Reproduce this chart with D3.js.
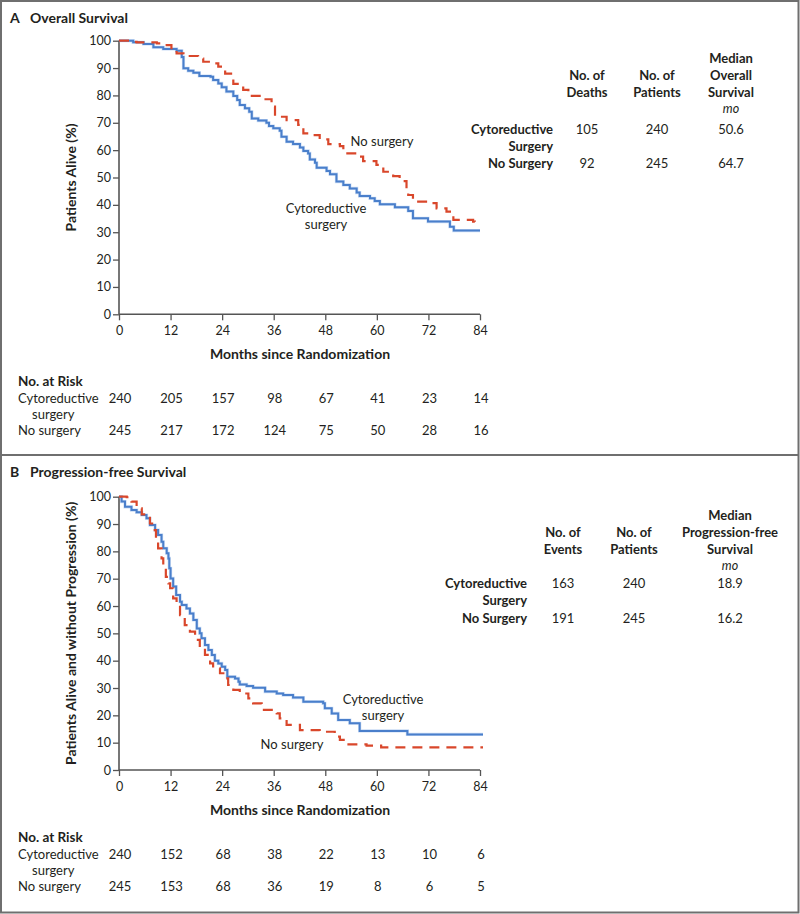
<!DOCTYPE html>
<html><head><meta charset="utf-8">
<script src="https://cdn.jsdelivr.net/npm/d3@7"></script>
<style>body{margin:0;background:#fff;}svg{display:block;font-family:Lato,"Open Sans",sans-serif;}</style>
</head><body>
<script>
// ---------- DATA ----------
const monthTicks = [0, 12, 24, 36, 48, 60, 72, 84];
const pctTicks = [0, 10, 20, 30, 40, 50, 60, 70, 80, 90, 100];
const groups = ["Cytoreductive surgery", "No surgery"];

// Overall survival (months, % alive)
const osSurgeryT = [0,3.3,5.7,8,10.3,13.4,14.6,15,16.1,17.3,18.7,21.3,21.9,23.1,23.9,25,26.6,27.5,28.1,29.3,30.3,30.9,32.4,34.3,34.9,35.9,37.4,37.8,39,40.5,42.1,42.9,44,44.4,45.6,46,48.3,49.1,50.6,52.2,53.7,55.3,56,58.4,59.5,60.7,64.2,67.3,68.4,71.9,77,77.9,84];
const osSurgeryS = [100,99.4,98.8,97.6,97,96.3,94,89.9,89,88.3,87.1,86.8,85.6,84.4,83,81.4,79.8,78.3,76.5,75.3,74,71.6,70.8,70,68.8,68,67.1,64.9,63.1,62.2,61,59.7,58.8,56.6,55.4,53.6,52.4,51.2,48.5,47.3,46,44.5,43.2,42.4,41.4,40.2,39.1,37.8,35.1,33.9,32,30.6,30.6];
const osNoSurgT = [0,2.6,4.1,8.8,11.1,12.2,13.4,15,18.4,19.6,21.9,23.1,24.7,26.6,28.9,30.1,33.6,35.5,36.3,39,41.7,42.9,44.4,46.7,48.7,51.4,52.2,55.3,56.8,59.9,61.5,63.8,65.3,66.9,67.3,68.4,72.3,73.9,76.2,77.8,82.4,82.8,83.2];
const osNoSurgS = [100,99.6,99.4,99,98.4,96.8,95.4,94.4,93.5,92.3,91.7,90.5,88,84.2,82,79.8,78.6,75.9,72.2,71,69.2,66.1,65.5,63.9,62.2,61.5,58.8,57.6,56,54.6,52.1,50.5,48.7,45.4,43.6,41.2,40.6,38.7,37.5,34.5,33.9,32.3,32.3];

// Progression-free survival
const pfsSurgT = [0,0.6,1.4,2.9,4.1,5.3,6.4,7.2,8.4,9.1,9.9,10.3,11.1,11.5,11.7,12,12.6,13.3,14.2,14.6,15.7,16.5,17.3,18.1,18.8,19.2,20,20.8,21.6,22.3,23.1,23.9,24.7,25.2,27,27.8,28.1,29.7,31.2,34,36.7,38.2,40.5,42.9,47.5,47.9,49.5,51,53.7,56,67.1,84.7];
const pfsSurgS = [100,98.2,96.3,95.1,94.3,93.3,92.1,89.6,87.8,86,83.5,81.1,79.3,77.4,73.8,70.1,67.1,64,61.6,60.4,59.1,57.3,54.9,51.8,50,48.2,45.7,43.9,42.1,40,39,37.8,36.6,34.1,33.5,32.3,31.3,30.7,30.1,28.7,28,27.4,26.5,25,24.4,22.6,20.7,18.3,17.1,14.3,13,13];
const pfsNoSurgT = [0,1.8,2.9,4.1,5.3,6.4,7.2,8,8.6,9.1,9.9,10.3,10.9,11.5,11.9,12.6,13.4,14.2,15.3,16.5,17.7,18.8,20,21.2,21.9,23.5,24.7,25.4,26.6,28.1,30.1,31.2,33.2,36.7,37.4,39,42.1,46.7,50.2,51.4,52.6,57.6,61,84.7];
const pfsNoSurgS = [100,99.8,98.2,95.7,93.5,92.7,90.2,87.8,84.8,81.1,77.4,73.8,70.7,68.3,66.5,62.8,60.4,56.7,53,50.6,47.6,44.5,42.1,39,37.2,35.4,33.5,31.1,29.3,28,26.2,24.4,22,20.7,18.9,16.5,14.6,14,12.2,11,9.4,8.9,8.3,8.3];

// Summary tables
const tableRowLabels = [["Cytoreductive", "Surgery"], ["No Surgery"]];
const osHeaders = [["No. of", "Deaths"], ["No. of", "Patients"], ["Median", "Overall", "Survival"]];
const osDeaths = ["105", "92"];
const osPatients = ["240", "245"];
const osMedian = ["50.6", "64.7"];
const pfsHeaders = [["No. of", "Events"], ["No. of", "Patients"], ["Median", "Progression-free", "Survival"]];
const pfsEvents = ["163", "191"];
const pfsPatients = ["240", "245"];
const pfsMedian = ["18.9", "16.2"];

// Numbers at risk
const osRiskSurgery = [240, 205, 157, 98, 67, 41, 23, 14];
const osRiskNoSurg = [245, 217, 172, 124, 75, 50, 28, 16];
const pfsRiskSurgery = [240, 152, 68, 38, 22, 13, 10, 6];
const pfsRiskNoSurg = [245, 153, 68, 36, 19, 8, 6, 5];

// ---------- DRAW ----------
const W = 800, H = 914;
const BLUE = "#4a7fcb", RED = "#d9472b", TXT = "#231f20", AX = "#555";
const svg = d3.select("body").append("svg").attr("width", W).attr("height", H);

svg.append("rect").attr("x", 1).attr("y", 1).attr("width", W - 2.5).attr("height", H - 2.5)
  .attr("fill", "none").attr("stroke", "#6f6f6f").attr("stroke-width", 2);
svg.append("line").attr("x1", 1).attr("x2", W - 1).attr("y1", 455).attr("y2", 455)
  .attr("stroke", "#6f6f6f").attr("stroke-width", 2);

function zip(t, s) { return t.map((v, i) => [v, s[i]]); }

function panel(cfg) {
  const g = svg.append("g");
  const x = d3.scaleLinear().domain([0, 84]).range([119, 480]);
  const y = d3.scaleLinear().domain([0, 100]).range([cfg.y0, cfg.y100]);

  // title
  const t = g.append("text").attr("x", 10).attr("y", cfg.titleY).attr("fill", TXT)
    .attr("font-weight", "bold").attr("font-size", 14);
  t.append("tspan").text(cfg.letter);
  t.append("tspan").attr("x", 30).text(cfg.title);

  // axes
  const ya = g.append("g").attr("transform", `translate(119,0)`)
    .call(d3.axisLeft(y).tickValues(pctTicks).tickSize(6).tickPadding(2));
  const xa = g.append("g").attr("transform", `translate(0,${cfg.y0})`)
    .call(d3.axisBottom(x).tickValues(monthTicks).tickSize(6).tickPadding(6));
  [ya, xa].forEach(a => {
    a.select(".domain").attr("stroke", AX).attr("stroke-width", 1.6);
    a.selectAll(".tick line").attr("stroke", AX).attr("stroke-width", 1.3);
    a.selectAll("text").attr("fill", TXT).attr("font-size", 12.5).attr("font-family", "Lato,sans-serif");
  });
  ya.select(".domain").attr("d", `M0,${cfg.y100}V${cfg.y0}`);
  xa.select(".domain").attr("d", `M119,0H480`);

  g.append("text").attr("transform", `translate(71,${(cfg.y0 + cfg.y100) / 2}) rotate(-90)`)
    .attr("text-anchor", "middle").attr("dy", "0.35em").attr("font-weight", "bold")
    .attr("font-size", 14).attr("fill", TXT).text(cfg.yTitle);
  g.append("text").attr("x", 300).attr("y", cfg.y0 + 40).attr("text-anchor", "middle")
    .attr("dy", "0.35em").attr("font-weight", "bold").attr("font-size", 14).attr("fill", TXT)
    .text("Months since Randomization");

  // curves
  const line = d3.line().x(d => x(d[0])).y(d => y(d[1])).curve(d3.curveStepAfter);
  g.append("path").datum(cfg.surg).attr("d", line).attr("fill", "none")
    .attr("stroke", "#a9c6ee").attr("stroke-width", 3.2).attr("stroke-opacity", 0.6);
  g.append("path").datum(cfg.surg).attr("d", line).attr("fill", "none")
    .attr("stroke", BLUE).attr("stroke-width", 2);
  g.append("path").datum(cfg.nosurg).attr("d", line).attr("fill", "none")
    .attr("stroke", RED).attr("stroke-width", 2.2).attr("stroke-dasharray", "10,7");

  // curve labels
  cfg.labels.forEach(l => {
    const tx = g.append("text").attr("x", l.x).attr("y", l.y).attr("text-anchor", "middle")
      .attr("font-size", 13).attr("fill", TXT);
    l.lines.forEach((s, i) => tx.append("tspan").attr("x", l.x).attr("dy", i === 0 ? "0.35em" : "1.25em").text(s));
  });

  // summary table
  const tb = cfg.table;
  tb.headers.forEach((h, ci) => {
    const n = h.length;
    h.forEach((s, li) => {
      g.append("text").attr("x", tb.cols[ci]).attr("y", tb.headBottom - (n - 1 - li) * 17)
        .attr("text-anchor", "middle").attr("dy", "0.35em").attr("font-weight", "bold")
        .attr("font-size", 13).attr("fill", TXT).text(s);
    });
  });
  g.append("text").attr("x", tb.cols[2]).attr("y", tb.headBottom + 16.5).attr("text-anchor", "middle")
    .attr("dy", "0.35em").attr("font-style", "italic").attr("font-size", 12.5).attr("fill", TXT).text("mo");
  tableRowLabels.forEach((lab, ri) => {
    const ry = tb.rowY[ri];
    lab.forEach((s, li) => {
      g.append("text").attr("x", tb.labelRight).attr("y", ry + li * 17).attr("text-anchor", "end")
        .attr("dy", "0.35em").attr("font-weight", "bold").attr("font-size", 13).attr("fill", TXT).text(s);
    });
    tb.values.forEach((arr, ci) => {
      g.append("text").attr("x", tb.cols[ci]).attr("y", ry).attr("text-anchor", "middle")
        .attr("dy", "0.35em").attr("font-size", 13).attr("fill", TXT).text(arr[ri]);
    });
  });

  // numbers at risk
  const r = cfg.risk;
  g.append("text").attr("x", 18).attr("y", r.y).attr("dy", "0.35em").attr("font-weight", "bold")
    .attr("font-size", 13.5).attr("fill", TXT).text("No. at Risk");
  g.append("text").attr("x", 18).attr("y", r.y + 17).attr("dy", "0.35em").attr("font-size", 13).attr("fill", TXT).text("Cytoreductive");
  g.append("text").attr("x", 32).attr("y", r.y + 33).attr("dy", "0.35em").attr("font-size", 13).attr("fill", TXT).text("surgery");
  g.append("text").attr("x", 18).attr("y", r.y + 49).attr("dy", "0.35em").attr("font-size", 13).attr("fill", TXT).text("No surgery");
  [[r.surg, 17], [r.nosurg, 49]].forEach(([arr, dy]) => {
    g.selectAll(null).data(arr).join("text")
      .attr("x", (d, i) => x(monthTicks[i]) + 1).attr("y", r.y + dy).attr("dy", "0.35em")
      .attr("text-anchor", "middle").attr("font-size", 13).attr("fill", TXT).text(d => d);
  });
}

panel({
  letter: "A", title: "Overall Survival", titleY: 23, y0: 314.3, y100: 40.7,
  yTitle: "Patients Alive (%)",
  surg: zip(osSurgeryT, osSurgeryS), nosurg: zip(osNoSurgT, osNoSurgS),
  labels: [{ x: 382, y: 141, lines: ["No surgery"] }, { x: 326, y: 208, lines: ["Cytoreductive", "surgery"] }],
  table: { cols: [587, 657, 731], headBottom: 92, labelRight: 553, rowY: [129, 163],
    headers: osHeaders, values: [osDeaths, osPatients, osMedian] },
  risk: { y: 381, surg: osRiskSurgery, nosurg: osRiskNoSurg }
});

panel({
  letter: "B", title: "Progression-free Survival", titleY: 477, y0: 770, y100: 496.7,
  yTitle: "Patients Alive and without Progression (%)",
  surg: zip(pfsSurgT, pfsSurgS), nosurg: zip(pfsNoSurgT, pfsNoSurgS),
  labels: [{ x: 383, y: 699, lines: ["Cytoreductive", "surgery"] }, { x: 292, y: 744, lines: ["No surgery"] }],
  table: { cols: [563, 634, 730], headBottom: 549, labelRight: 527, rowY: [583, 618],
    headers: pfsHeaders, values: [pfsEvents, pfsPatients, pfsMedian] },
  risk: { y: 837, surg: pfsRiskSurgery, nosurg: pfsRiskNoSurg }
});
</script>
</body></html>
